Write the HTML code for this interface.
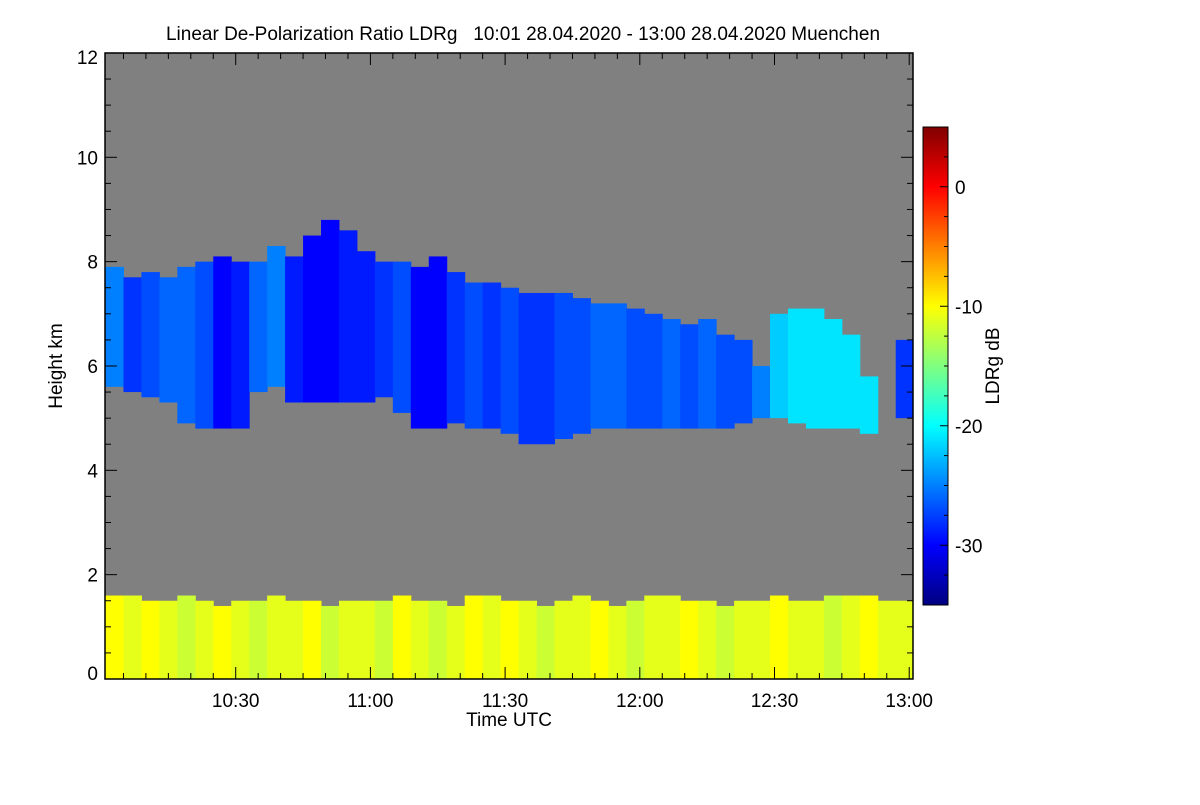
<!DOCTYPE html>
<html><head><meta charset="utf-8"><style>
html,body{margin:0;padding:0;background:#fff;}
svg text{font-family:"Liberation Sans",sans-serif;fill:#000;}
</style></head><body>
<svg id="chart" width="1200" height="800" xmlns="http://www.w3.org/2000/svg">
<defs>
<linearGradient id="jet" x1="0" y1="1" x2="0" y2="0">
<stop offset="0" stop-color="#000080"/><stop offset="0.125" stop-color="#0000ff"/>
<stop offset="0.375" stop-color="#00ffff"/><stop offset="0.625" stop-color="#ffff00"/>
<stop offset="0.875" stop-color="#ff0000"/><stop offset="1" stop-color="#800000"/>
</linearGradient>
<clipPath id="pc"><rect x="105" y="53" width="808" height="626"/></clipPath>
</defs>
<text x="523" y="40" font-size="19" text-anchor="middle" style="white-space:pre" xml:space="preserve">Linear De-Polarization Ratio LDRg   10:01 28.04.2020 - 13:00 28.04.2020 Muenchen</text>
<rect x="105" y="53" width="808" height="626" fill="#808080"/>
<g id="marks" clip-path="url(#pc)"></g>
<g id="axes"></g>
<rect x="105" y="53" width="808" height="626" fill="none" stroke="#000" stroke-width="1.5"/>
<text x="509" y="726" font-size="19" text-anchor="middle">Time UTC</text>
<text transform="translate(62,366) rotate(-90)" font-size="19" text-anchor="middle">Height km</text>
<rect x="923" y="127" width="25" height="478" fill="url(#jet)" stroke="#000" stroke-width="1"/>
<g id="cbaxis"></g>
<text transform="translate(999,366) rotate(-90)" font-size="19" text-anchor="middle">LDRg dB</text>
</svg>
<script>
const binMinutes = 4;
const cloudTop  = [7.9,7.7,7.8,7.7,7.9,8.0,8.1,8.0,8.0,8.3,8.1,8.5,8.8,8.6,8.2,8.0,8.0,7.9,8.1,7.8,7.6,7.6,7.5,7.4,7.4,7.4,7.3,7.2,7.2,7.1,7.0,6.9,6.8,6.9,6.6,6.5,6.0,7.0,7.1,7.1,6.9,6.6,5.8,null,6.5];
const cloudBase = [5.6,5.5,5.4,5.3,4.9,4.8,4.8,4.8,5.5,5.6,5.3,5.3,5.3,5.3,5.3,5.4,5.1,4.8,4.8,4.9,4.8,4.8,4.7,4.5,4.5,4.6,4.7,4.8,4.8,4.8,4.8,4.8,4.8,4.8,4.8,4.9,5.0,5.0,4.9,4.8,4.8,4.8,4.7,null,5.0];
const cloudLdr  = [-25,-28,-27,-26,-26,-27,-30,-29,-26,-25,-29,-30,-30,-29,-29,-28,-27,-30,-30,-28,-27,-28,-27,-28,-28,-27,-27,-26,-26,-27,-27,-26,-27,-26,-27,-27,-25,-22,-21,-21,-21,-21,-21,null,-28];
const blTop     = [1.6,1.6,1.5,1.5,1.6,1.5,1.4,1.5,1.5,1.6,1.5,1.5,1.4,1.5,1.5,1.5,1.6,1.5,1.5,1.4,1.6,1.6,1.5,1.5,1.4,1.5,1.6,1.5,1.4,1.5,1.6,1.6,1.5,1.5,1.4,1.5,1.5,1.6,1.5,1.5,1.6,1.6,1.6,1.5,1.5];
const blLdr     = [-10,-11,-10,-11,-12,-11,-10,-11,-12,-11,-11,-10,-12,-11,-11,-12,-10,-11,-12,-11,-10,-11,-10,-11,-12,-11,-11,-10,-11,-12,-11,-11,-10,-11,-12,-11,-11,-10,-11,-11,-12,-11,-10,-11,-11];
const yTicks = [0,2,4,6,8,10,12];
const xTickLabels = ["10:30","11:00","11:30","12:00","12:30","13:00"];
const xTickMinutes = [29,59,89,119,149,179];
const cbTicks = [0,-10,-20,-30];

const NS="http://www.w3.org/2000/svg";
const X0=105.5, PXMIN=4.49;
const xs=m=>X0+m*PXMIN;
const ys=h=>679-h*52.17;
const cbY=v=>605-(v+35)/40*478;
function jet(v){const f=Math.max(0,Math.min(1,(v+35)/40));
 const c=t=>Math.max(0,Math.min(1,1.5-Math.abs(4*f-t)));
 return `rgb(${Math.round(255*c(3))},${Math.round(255*c(2))},${Math.round(255*c(1))})`;}
function mk(tag,attrs,parent){const e=document.createElementNS(NS,tag);for(const k in attrs)e.setAttribute(k,attrs[k]);parent.appendChild(e);return e;}
const marks=document.getElementById('marks');
cloudTop.forEach((t,i)=>{
 if(t===null)return;
 const x=xs(i*binMinutes), w=binMinutes*PXMIN+0.5;
 const r=mk('rect',{x:x,y:ys(t),width:w,height:ys(cloudBase[i])-ys(t),fill:jet(cloudLdr[i])},marks);
 
 
});
blTop.forEach((t,i)=>{
 const x=xs(i*binMinutes), w=binMinutes*PXMIN+0.5;
 const r=mk('rect',{x:x,y:ys(t),width:w,height:ys(0)-ys(t),fill:jet(blLdr[i])},marks);
 
 
});
const ax=document.getElementById('axes');
for(let h=0;h<=12;h+=0.5){const maj=h%2===0,len=maj?12:6;
 mk('line',{x1:105,x2:105+len,y1:ys(h),y2:ys(h),stroke:'#000'},ax);
 mk('line',{x1:913,x2:913-len,y1:ys(h),y2:ys(h),stroke:'#000'},ax);}
yTicks.forEach(h=>{const yy=h===0?ys(h)-6:(h===12?ys(h)+4:ys(h));
 const t=mk('text',{x:98,y:yy+7,'font-size':19,'text-anchor':'end'},ax);t.textContent=h;
 
 });
for(let m=-1;m<=179;m+=5){const maj=(m+1)%30===0,len=maj?12:6;const x=xs(m);
 if(x<105||x>913)continue;
 mk('line',{x1:x,x2:x,y1:679,y2:679-len,stroke:'#000'},ax);
 mk('line',{x1:x,x2:x,y1:53,y2:53+len,stroke:'#000'},ax);}
xTickLabels.forEach((l,i)=>{const t=mk('text',{x:xs(xTickMinutes[i]),y:707,'font-size':19,'text-anchor':'middle'},ax);t.textContent=l;
 
 });
const cb=document.getElementById('cbaxis');
for(let v=-35;v<=5;v+=2.5){const maj=v%10===0;mk('line',{x1:948,x2:maj?940:944,y1:cbY(v),y2:cbY(v),stroke:'#000'},cb);}
cbTicks.forEach(v=>{const t=mk('text',{x:955,y:cbY(v)+7,'font-size':19},cb);t.textContent=v;
 
 });
</script>
</body></html>
